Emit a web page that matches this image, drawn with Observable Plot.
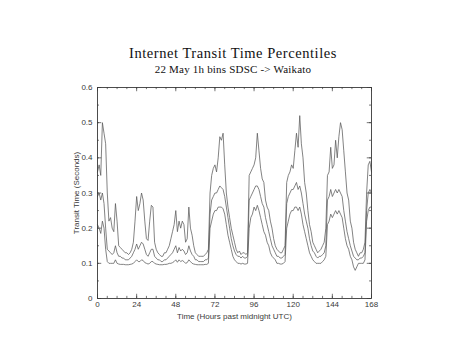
<!DOCTYPE html>
<html>
<head>
<meta charset="utf-8">
<script src="https://cdn.jsdelivr.net/npm/d3@7"></script>
<script src="https://cdn.jsdelivr.net/npm/@observablehq/plot@0.6"></script>
<style>
  html, body { margin: 0; padding: 0; background: #fff; }
  #wrap { position: relative; width: 466px; height: 349px; overflow: hidden; }
  .t { position: absolute; left: 0; width: 466px; text-align: center; font-family: "Liberation Serif", "DejaVu Serif", serif; color: #111; white-space: nowrap; line-height: 1; }
  #title { top: 46px; font-size: 14.5px; letter-spacing: 0.55px; }
  #sub { top: 64px; font-size: 11px; letter-spacing: 0.2px; }
  #chart { position: absolute; left: 0; top: 0; }
</style>
</head>
<body>
<div id="wrap">
  <div id="chart"></div>
  <div class="t" id="title">Internet Transit Time Percentiles</div>
  <div class="t" id="sub">22 May 1h bins SDSC -&gt; Waikato</div>
</div>
<script>
const hours = d3.range(0, 169);

const upper = [0.36,0.38,0.35,0.50,0.47,0.44,0.30,0.22,0.23,0.20,0.19,0.27,0.22,0.15,0.145,0.14,0.135,0.13,0.13,0.125,0.13,0.14,0.16,0.22,
0.29,0.25,0.27,0.30,0.28,0.22,0.17,0.165,0.22,0.265,0.26,0.16,0.14,0.13,0.125,0.12,0.12,0.13,0.13,0.14,0.15,0.17,0.19,0.21,
0.25,0.19,0.22,0.20,0.22,0.21,0.16,0.17,0.26,0.20,0.18,0.15,0.13,0.125,0.12,0.12,0.12,0.12,0.125,0.13,0.14,0.30,0.35,0.37,
0.38,0.36,0.40,0.46,0.45,0.47,0.38,0.30,0.26,0.23,0.20,0.18,0.16,0.14,0.13,0.135,0.125,0.13,0.13,0.125,0.13,0.35,0.36,0.37,
0.38,0.40,0.47,0.42,0.37,0.34,0.33,0.28,0.26,0.25,0.22,0.20,0.17,0.15,0.14,0.135,0.13,0.13,0.14,0.15,0.33,0.35,0.36,0.38,
0.37,0.42,0.47,0.43,0.52,0.44,0.40,0.33,0.30,0.25,0.21,0.19,0.16,0.15,0.14,0.13,0.135,0.14,0.15,0.16,0.20,0.35,0.36,0.43,
0.37,0.38,0.45,0.40,0.46,0.50,0.48,0.42,0.36,0.30,0.28,0.22,0.20,0.16,0.14,0.13,0.12,0.13,0.13,0.14,0.16,0.30,0.38,0.39,
0.36];

const median = [0.29,0.30,0.28,0.30,0.27,0.20,0.14,0.135,0.13,0.125,0.13,0.15,0.13,0.12,0.12,0.115,0.115,0.11,0.11,0.11,0.115,0.12,0.13,0.14,
0.155,0.14,0.15,0.16,0.155,0.14,0.125,0.12,0.13,0.14,0.14,0.12,0.115,0.11,0.11,0.105,0.105,0.11,0.11,0.115,0.12,0.125,0.13,0.14,
0.15,0.13,0.145,0.135,0.14,0.135,0.125,0.13,0.15,0.135,0.125,0.12,0.11,0.11,0.105,0.105,0.105,0.105,0.11,0.11,0.115,0.24,0.28,0.29,
0.30,0.30,0.31,0.32,0.315,0.31,0.29,0.26,0.23,0.20,0.17,0.15,0.135,0.125,0.12,0.12,0.115,0.12,0.115,0.115,0.12,0.28,0.29,0.30,
0.31,0.32,0.32,0.31,0.29,0.27,0.26,0.23,0.21,0.19,0.17,0.15,0.14,0.13,0.12,0.12,0.115,0.115,0.12,0.125,0.27,0.29,0.30,0.31,
0.31,0.32,0.33,0.31,0.32,0.30,0.27,0.24,0.22,0.20,0.17,0.15,0.135,0.13,0.12,0.115,0.12,0.12,0.125,0.13,0.15,0.28,0.29,0.31,
0.29,0.30,0.31,0.30,0.31,0.30,0.29,0.25,0.22,0.19,0.17,0.15,0.135,0.12,0.115,0.11,0.11,0.115,0.115,0.12,0.13,0.25,0.30,0.31,
0.30];

const lower = [0.21,0.20,0.185,0.22,0.20,0.14,0.105,0.10,0.10,0.10,0.10,0.11,0.10,0.098,0.097,0.097,0.097,0.096,0.096,0.096,0.097,0.098,0.10,0.105,
0.11,0.105,0.105,0.11,0.108,0.102,0.10,0.098,0.10,0.105,0.105,0.10,0.098,0.097,0.096,0.096,0.096,0.097,0.097,0.098,0.10,0.10,0.102,0.105,
0.11,0.103,0.11,0.105,0.108,0.105,0.10,0.102,0.11,0.105,0.10,0.098,0.097,0.096,0.096,0.096,0.096,0.096,0.097,0.097,0.10,0.20,0.22,0.24,
0.25,0.25,0.26,0.26,0.26,0.255,0.24,0.21,0.18,0.16,0.14,0.12,0.11,0.105,0.10,0.10,0.098,0.10,0.098,0.098,0.10,0.20,0.23,0.24,
0.26,0.25,0.265,0.25,0.23,0.21,0.19,0.18,0.16,0.15,0.13,0.12,0.115,0.11,0.10,0.10,0.098,0.098,0.10,0.105,0.20,0.22,0.24,0.25,
0.25,0.26,0.26,0.25,0.26,0.24,0.21,0.19,0.17,0.15,0.13,0.12,0.11,0.105,0.10,0.10,0.10,0.10,0.105,0.11,0.12,0.21,0.22,0.24,
0.23,0.24,0.25,0.24,0.25,0.24,0.23,0.20,0.17,0.15,0.14,0.12,0.11,0.09,0.08,0.09,0.10,0.10,0.10,0.10,0.11,0.22,0.25,0.26,
0.26];

const xTicks = [0, 24, 48, 72, 96, 120, 144, 168];
const yTicks = [0, 0.1, 0.2, 0.3, 0.4, 0.5, 0.6];
const yTickLabels = ["0", "0.1", "0.2", "0.3", "0.4", "0.5", "0.6"];
const xMinor = d3.range(0, 169, 6);
const yMinor = d3.range(0, 0.601, 0.05);

const series = [
  {name: "upper", values: upper},
  {name: "median", values: median},
  {name: "lower", values: lower}
];
const rows = series.flatMap(s => s.values.map((v, i) => ({series: s.name, h: hours[i], v})));

const ink = "#3a3a3a";
const plot = Plot.plot({
  width: 466,
  height: 349,
  marginTop: 87,
  marginBottom: 51,
  marginLeft: 97,
  marginRight: 95,
  style: {fontFamily: "'Liberation Sans', Arial, sans-serif", fontSize: "8px", color: ink, background: "white"},
  x: {domain: [0, 168]},
  y: {domain: [0, 0.6]},
  marks: [
    Plot.axisX(xTicks, {tickSize: 0, tickPadding: 3, fontSize: 8, tickFormat: d => String(d), label: "Time (Hours past midnight UTC)", labelAnchor: "center", labelArrow: "none", labelOffset: 20}),
    Plot.axisY(yTicks, {tickSize: 0, tickPadding: 5, fontSize: 8, tickFormat: (d, i) => yTickLabels[i], label: "Transit Time (Seconds)", labelAnchor: "center", labelArrow: "none", labelOffset: 24}),
    // inward ticks on all four sides
    Plot.ruleX(xMinor, {y1: 0, y2: 0.006, stroke: ink, strokeWidth: 0.7}),
    Plot.ruleX(xMinor, {y1: 0.6, y2: 0.594, stroke: ink, strokeWidth: 0.7}),
    Plot.ruleX(xTicks, {y1: 0, y2: 0.012, stroke: ink, strokeWidth: 0.7}),
    Plot.ruleX(xTicks, {y1: 0.6, y2: 0.588, stroke: ink, strokeWidth: 0.7}),
    Plot.ruleY(yMinor, {x1: 0, x2: 1.2, stroke: ink, strokeWidth: 0.7}),
    Plot.ruleY(yMinor, {x1: 168, x2: 166.8, stroke: ink, strokeWidth: 0.7}),
    Plot.ruleY(yTicks, {x1: 0, x2: 2.6, stroke: ink, strokeWidth: 0.7}),
    Plot.ruleY(yTicks, {x1: 168, x2: 165.4, stroke: ink, strokeWidth: 0.7}),
    Plot.lineY(rows, {x: "h", y: "v", z: "series", stroke: "#5a5a5a", strokeWidth: 0.75}),
    Plot.frame({stroke: ink, strokeWidth: 0.9})
  ]
});
document.getElementById("chart").appendChild(plot);
</script>
</body>
</html>
